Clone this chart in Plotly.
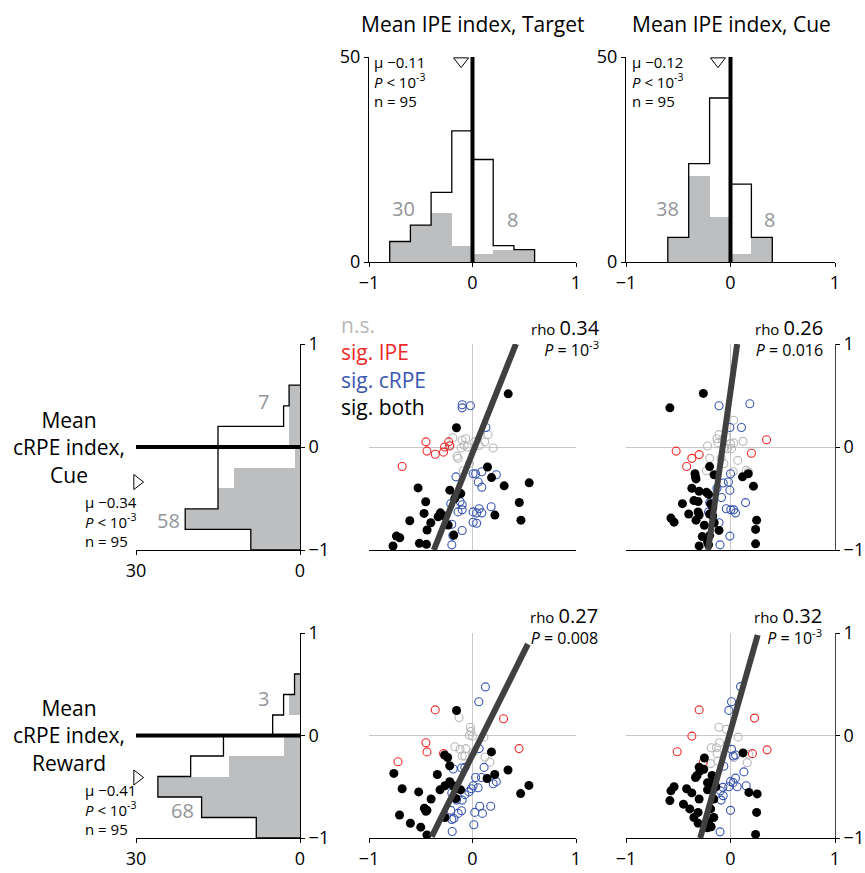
import plotly.graph_objects as go

# ---------------- data ----------------
BIN_W = 0.2
# top histograms (IPE index), left bin edges, total counts, significant counts
ipe_target_left = [-0.8, -0.6, -0.4, -0.2, 0.0, 0.2, 0.4]
ipe_target_total = [5, 9, 17, 32, 25, 4, 3]
ipe_target_sig = [5, 9, 12, 4, 2, 3, 3]
ipe_target_mean = -0.11

ipe_cue_left = [-0.6, -0.4, -0.2, 0.0, 0.2]
ipe_cue_total = [6, 24, 40, 19, 6]
ipe_cue_sig = [6, 21, 11, 2, 6]
ipe_cue_mean = -0.12

# left histograms (cRPE index)
crpe_cue_left = [-1.0, -0.8, -0.6, -0.4, -0.2, 0.0, 0.2, 0.4]
crpe_cue_total = [9, 21, 15, 15, 15, 15, 3, 2]
crpe_cue_sig = [9, 21, 15, 12, 1, 2, 2, 2]
crpe_cue_mean = -0.34

crpe_rew_left = [-1.0, -0.8, -0.6, -0.4, -0.2, 0.0, 0.2, 0.4]
crpe_rew_total = [8, 18, 26, 20, 14, 5, 3, 1]
crpe_rew_sig = [8, 18, 26, 13, 3, 0, 2, 1]
crpe_rew_mean = -0.41

# scatter: cRPE cue vs IPE target
cue_tgt_ns = [(-0.19,0.09),(-0.1,0.065),(-0.065,0.08),(-0.08,0.016),(-0.05,0.0),(0.02,0.05),(0.12,0.05),(0.15,0.12),(0.2,-0.01),(-0.15,-0.09),(-0.14,-0.11),(-0.09,-0.23),(-0.03,-0.16),(-0.11,-0.01),(0.065,0.016),(-0.22,0.02)]
cue_tgt_ipe = [(-0.45,0.05),(-0.44,-0.04),(-0.36,-0.07),(-0.28,-0.05),(-0.27,0.0),(-0.23,0.05),(-0.22,0.01),(-0.68,-0.19)]
cue_tgt_crpe = [(-0.1,0.41),(-0.1,0.38),(-0.02,0.40),(0.13,0.19),(0.03,-0.26),(0.006,-0.26),(0.09,-0.24),(0.23,-0.27),(-0.16,-0.29),(0.055,-0.34),(0.09,-0.39),(-0.21,-0.55),(-0.12,-0.53),(-0.1,-0.56),(-0.14,-0.63),(-0.1,-0.61),(0.065,-0.60),(0.006,-0.63),(0.04,-0.64),(0.09,-0.64),(0.18,-0.58),(0.006,-0.73),(0.04,-0.74),(-0.2,-0.75),(-0.1,-0.81),(-0.19,-0.86),(-0.2,-0.95)]
cue_tgt_both = [(0.345,0.516),(-0.155,0.187),(0.145,-0.194),(0.184,-0.297),(0.548,-0.348),(0.306,-0.377),(-0.526,-0.397),(-0.219,-0.419),(-0.113,-0.452),(-0.155,-0.468),(-0.171,-0.5),(-0.452,-0.532),(0.452,-0.539),(-0.468,-0.645),(-0.31,-0.639),(-0.332,-0.677),(-0.268,-0.671),(0.216,-0.661),(-0.606,-0.716),(-0.403,-0.735),(0.468,-0.71),(-0.235,-0.758),(-0.439,-0.806),(-0.735,-0.865),(-0.703,-0.881),(-0.181,-0.855),(-0.513,-0.935),(-0.445,-0.945),(-0.768,-0.961)]

# scatter: cRPE cue vs IPE cue
cue_cue_ns = [(0.03,0.26),(-0.11,0.12),(-0.13,0.08),(-0.08,0.07),(-0.12,0.04),(0.0,0.03),(0.03,0.04),(0.12,0.055),(-0.22,0.01),(-0.055,-0.006),(-0.03,-0.016),(0.01,-0.016),(-0.2,-0.11),(-0.09,-0.11),(-0.064,-0.16),(0.07,-0.13),(0.026,-0.24),(-0.23,-0.23),(0.17,-0.24),(0.15,-0.226),(-0.04,0.1)]
cue_cue_ipe = [(-0.52,-0.04),(-0.37,-0.11),(-0.3,-0.074),(-0.42,-0.19),(0.345,0.07),(0.2,-0.06)]
cue_cue_crpe = [(-0.11,0.4),(0.185,0.42),(0.105,0.19),(-0.006,0.19),(0.0,-0.26),(-0.02,-0.34),(-0.07,-0.35),(-0.006,-0.42),(-0.13,-0.4),(-0.086,-0.49),(0.144,-0.54),(-0.2,-0.54),(-0.21,-0.63),(-0.04,-0.6),(0.003,-0.61),(0.03,-0.61),(0.048,-0.64),(-0.11,-0.735),(-0.006,-0.865),(-0.1,-0.95)]
cue_cue_both = [(-0.26,0.52),(-0.58,0.38),(-0.2,-0.19),(-0.34,-0.26),(-0.335,-0.29),(-0.33,-0.31),(-0.157,-0.27),(0.115,-0.29),(0.17,-0.26),(0.22,-0.38),(-0.37,-0.4),(-0.3,-0.43),(-0.23,-0.44),(-0.21,-0.46),(-0.35,-0.52),(-0.31,-0.53),(-0.46,-0.55),(-0.19,-0.55),(-0.17,-0.59),(-0.4,-0.65),(-0.31,-0.63),(-0.3,-0.66),(-0.2,-0.65),(-0.17,-0.67),(-0.57,-0.69),(-0.54,-0.73),(-0.33,-0.71),(-0.156,-0.735),(-0.25,-0.76),(-0.11,-0.81),(0.25,-0.71),(0.24,-0.8),(-0.27,-0.87),(-0.2,-0.86),(-0.22,-0.92),(-0.3,-0.96),(-0.21,-0.95),(0.24,-0.94)]

# scatter: cRPE reward vs IPE target
rew_tgt_ns = [(-0.13,0.176),(-0.02,0.08),(-0.016,0.04),(-0.03,0.003),(0.0,-0.006),(0.11,-0.016),(-0.17,-0.11),(-0.12,-0.135),(-0.064,-0.128),(-0.1,-0.2),(-0.074,-0.2),(0.12,-0.21),(0.167,-0.26),(0.006,-0.167)]
rew_tgt_ipe = [(-0.36,0.25),(0.3,0.163),(-0.45,-0.07),(-0.44,-0.16),(-0.28,-0.176),(0.45,-0.128),(-0.72,-0.256)]
rew_tgt_crpe = [(0.125,0.474),(0.061,0.33),(0.064,-0.128),(-0.106,-0.317),(-0.074,-0.311),(0.112,-0.311),(-0.186,-0.327),(0.03,-0.41),(0.087,-0.41),(0.006,-0.49),(-0.01,-0.52),(0.054,-0.51),(0.2,-0.47),(0.23,-0.45),(-0.035,-0.55),(-0.2,-0.56),(-0.074,-0.577),(-0.154,-0.63),(-0.1,-0.63),(0.07,-0.69),(0.176,-0.69),(0.022,-0.75),(0.096,-0.76),(-0.21,-0.73),(-0.106,-0.734),(-0.138,-0.76),(-0.18,-0.81),(-0.2,-0.82),(0.013,-0.87),(-0.196,-0.936)]
rew_tgt_both = [(-0.154,0.244),(0.183,-0.16),(-0.27,-0.19),(-0.24,-0.215),(-0.22,-0.295),(0.343,-0.337),(-0.76,-0.37),(-0.34,-0.38),(0.215,-0.38),(0.141,-0.42),(-0.22,-0.45),(-0.186,-0.49),(-0.266,-0.49),(-0.314,-0.53),(-0.16,-0.52),(-0.115,-0.53),(-0.68,-0.52),(-0.52,-0.55),(0.545,-0.487),(0.465,-0.567),(-0.4,-0.62),(-0.16,-0.615),(-0.465,-0.71),(-0.44,-0.73),(-0.45,-0.74),(-0.705,-0.776),(-0.266,-0.8),(-0.6,-0.856),(-0.5,-0.894),(-0.44,-0.97)]

# scatter: cRPE reward vs IPE cue
rew_cue_ns = [(-0.11,0.08),(-0.04,0.06),(0.073,-0.016),(-0.185,-0.12),(-0.134,-0.12),(-0.105,-0.07),(-0.128,-0.177),(-0.19,-0.274),(0.16,-0.265),(0.176,-0.184),(-0.12,-0.25),(0.03,-0.215)]
rew_cue_ipe = [(-0.3,0.25),(0.23,0.17),(-0.37,-0.006),(-0.51,-0.158),(0.35,-0.14),(0.21,-0.177),(-0.26,-0.26)]
rew_cue_crpe = [(0.096,0.477),(0.01,0.33),(-0.016,0.245),(0.01,-0.135),(0.026,-0.2),(0.048,-0.19),(-0.064,-0.3),(0.128,-0.355),(0.048,-0.416),(0.0,-0.45),(0.026,-0.46),(0.064,-0.5),(-0.016,-0.5),(0.15,-0.49),(-0.073,-0.506),(-0.096,-0.54),(-0.07,-0.587),(-0.09,-0.63),(0.0,-0.73),(-0.1,-0.94)]
rew_cue_both = [(0.12,-0.17),(-0.25,-0.22),(-0.3,-0.31),(-0.29,-0.345),(-0.32,-0.39),(-0.335,-0.41),(-0.256,-0.33),(-0.176,-0.39),(-0.22,-0.46),(-0.176,-0.47),(-0.14,-0.5),(-0.22,-0.53),(-0.54,-0.5),(-0.57,-0.54),(-0.58,-0.635),(-0.42,-0.52),(-0.37,-0.56),(-0.3,-0.62),(-0.45,-0.67),(-0.39,-0.716),(-0.31,-0.75),(-0.35,-0.8),(-0.31,-0.855),(-0.19,-0.716),(-0.16,-0.8),(-0.21,-0.845),(-0.22,-0.9),(-0.185,-0.89),(0.176,-0.555),(0.255,-0.57),(0.25,-0.75),(0.24,-0.965),(-0.16,-0.62)]

# regression fits: slope, intercept, x-extent
fit_cue_tgt = (2.52, -0.058, -0.374, 0.42)
fit_cue_cue = (7.19, 0.54, -0.214, 0.064)
fit_rew_tgt = (2.02, -0.19, -0.394, 0.535)
fit_rew_cue = (3.60, 0.044, -0.29, 0.26)

rho_labels = ["0.34", "0.26", "0.27", "0.32"]
p_labels = ["10<sup>-3</sup>", "0.016", "0.008", "10<sup>-3</sup>"]
sig_counts_top = [("30", "8"), ("38", "8")]
sig_counts_left = [("7", "58"), ("3", "68")]
stat_mu = ["\u22120.11", "\u22120.12", "\u22120.34", "\u22120.41"]
row_names = ["Cue", "Reward"]
n_cells = 95

# ---------------- style ----------------
W, H = 865, 873
FONT = "Open Sans"
GRAYFILL = "#BCBEC0"
NUMGRAY = "#939598"
RED = "#EE2A2A"
BLUE = "#3A56B0"
NSGRAY = "#B8B8B8"
FITC = "#404040"

def fx(p):
    return p / W

def fy(p):
    return 1 - p / H

fig = go.Figure()

# panel boxes in pixels: left, right, top, bottom
boxes = {
    1: (369, 576, 57, 262),
    2: (626, 835, 57, 262),
    3: (136, 300, 344, 550),
    4: (369, 576, 344, 550),
    5: (626, 835, 344, 550),
    6: (136, 300, 633, 838),
    7: (369, 576, 633, 838),
    8: (626, 835, 633, 838),
}

def ax(i, kind):
    return ("x" if kind == "x" else "y") + ("" if i == 1 else str(i))

# ---- top histograms ----
for i, (left, total, sig, mean) in zip([1, 2], [
        (ipe_target_left, ipe_target_total, ipe_target_sig, ipe_target_mean),
        (ipe_cue_left, ipe_cue_total, ipe_cue_sig, ipe_cue_mean)]):
    centers = [e + BIN_W / 2 for e in left]
    fig.add_trace(go.Bar(x=centers, y=sig, width=BIN_W, marker=dict(color=GRAYFILL, line=dict(width=0)),
                         xaxis=ax(i, "x"), yaxis=ax(i, "y"), showlegend=False, hoverinfo="skip"))
    xs = [left[0]] + list(left) + [left[-1] + BIN_W]
    ys = [0] + list(total) + [0]
    fig.add_trace(go.Scatter(x=xs, y=ys, mode="lines", line=dict(color="black", width=1.3, shape="hv"),
                             xaxis=ax(i, "x"), yaxis=ax(i, "y"), showlegend=False, hoverinfo="skip"))
    fig.add_shape(type="line", x0=0, x1=0, y0=0, y1=50, xref=ax(i, "x"), yref=ax(i, "y"),
                  line=dict(color="black", width=4))
    fig.add_trace(go.Scatter(x=[mean], y=[49], mode="markers",
                             marker=dict(symbol="triangle-down-open", size=13, color="black", line=dict(width=1)),
                             xaxis=ax(i, "x"), yaxis=ax(i, "y"), showlegend=False, cliponaxis=False, hoverinfo="skip"))

# ---- left histograms ----
for i, (left, total, sig, mean) in zip([3, 6], [
        (crpe_cue_left, crpe_cue_total, crpe_cue_sig, crpe_cue_mean),
        (crpe_rew_left, crpe_rew_total, crpe_rew_sig, crpe_rew_mean)]):
    centers = [e + BIN_W / 2 for e in left]
    fig.add_trace(go.Bar(y=centers, x=sig, width=BIN_W, orientation="h",
                         marker=dict(color=GRAYFILL, line=dict(width=0)),
                         xaxis=ax(i, "x"), yaxis=ax(i, "y"), showlegend=False, hoverinfo="skip"))
    ys = [left[0]] + list(left) + [left[-1] + BIN_W]
    xs = [0] + list(total) + [0]
    fig.add_trace(go.Scatter(x=xs, y=ys, mode="lines", line=dict(color="black", width=1.3, shape="vh"),
                             xaxis=ax(i, "x"), yaxis=ax(i, "y"), showlegend=False, hoverinfo="skip"))
    fig.add_shape(type="line", x0=30, x1=0, y0=0, y1=0, xref=ax(i, "x"), yref=ax(i, "y"),
                  line=dict(color="black", width=4))
    fig.add_trace(go.Scatter(x=[29.8], y=[mean], mode="markers",
                             marker=dict(symbol="triangle-right-open", size=13, color="black", line=dict(width=1)),
                             xaxis=ax(i, "x"), yaxis=ax(i, "y"), showlegend=False, cliponaxis=False, hoverinfo="skip"))

# ---- scatters ----
scatter_sets = {
    4: (cue_tgt_ns, cue_tgt_ipe, cue_tgt_crpe, cue_tgt_both, fit_cue_tgt),
    5: (cue_cue_ns, cue_cue_ipe, cue_cue_crpe, cue_cue_both, fit_cue_cue),
    7: (rew_tgt_ns, rew_tgt_ipe, rew_tgt_crpe, rew_tgt_both, fit_rew_tgt),
    8: (rew_cue_ns, rew_cue_ipe, rew_cue_crpe, rew_cue_both, fit_rew_cue),
}
for i, (ns, ipe, crpe, both, fit) in scatter_sets.items():
    for pts, col, filled in [(ns, NSGRAY, False), (ipe, RED, False), (crpe, BLUE, False), (both, "black", True)]:
        if filled:
            mk = dict(symbol="circle", size=9, color="black", line=dict(width=0))
        else:
            mk = dict(symbol="circle-open", size=8, color=col, line=dict(width=1.1, color=col))
        fig.add_trace(go.Scatter(x=[p[0] for p in pts], y=[p[1] for p in pts], mode="markers", marker=mk,
                                 xaxis=ax(i, "x"), yaxis=ax(i, "y"), showlegend=False, hoverinfo="skip"))
    m, b, xlo, xhi = fit
    fig.add_trace(go.Scatter(x=[xlo, xhi], y=[m * xlo + b, m * xhi + b], mode="lines",
                             line=dict(color=FITC, width=6), xaxis=ax(i, "x"), yaxis=ax(i, "y"),
                             showlegend=False, hoverinfo="skip", cliponaxis=False))

# ---------------- axes ----------------
tickfont = dict(family=FONT, size=18, color="black")
layout_axes = {}
for i, (l, r, t, bt) in boxes.items():
    xk = "xaxis" + ("" if i == 1 else str(i))
    yk = "yaxis" + ("" if i == 1 else str(i))
    xa = dict(domain=[fx(l), fx(r)], anchor=ax(i, "y"), showgrid=False, zeroline=False, automargin=False,
              showline=True, linecolor="black", linewidth=1, ticks="outside", ticklen=4,
              tickcolor="black", tickfont=tickfont, fixedrange=True)
    ya = dict(domain=[fy(bt), fy(t)], anchor=ax(i, "x"), showgrid=False, zeroline=False, automargin=False,
              showline=True, linecolor="black", linewidth=1, ticks="outside", ticklen=4,
              tickcolor="black", tickfont=tickfont, fixedrange=True)
    if i in (1, 2):
        xa.update(range=[-1, 1], tickvals=[-1, 0, 1], ticktext=["\u22121", "0", "1"])
        ya.update(range=[0, 50], tickvals=[0, 50], ticktext=["0", "50"])
    elif i in (3, 6):
        xa.update(range=[30, 0], tickvals=[30, 0], ticktext=["30", "0"])
        ya.update(range=[-1, 1], side="right", tickvals=[-1, 0, 1], ticktext=["\u22121", "0", "1"])
    else:
        xa.update(range=[-1, 1], zeroline=True, zerolinecolor="#C8C8C8", zerolinewidth=1)
        ya.update(range=[-1, 1], zeroline=True, zerolinecolor="#C8C8C8", zerolinewidth=1)
        if i in (4, 5):
            xa.update(ticks="", showticklabels=False)
        else:
            xa.update(tickvals=[-1, 0, 1], ticktext=["\u22121", "0", "1"])
        if i in (5, 8):
            ya.update(side="right", tickvals=[-1, 0, 1], ticktext=["\u22121", "0", "1"], linecolor="#444")
        else:
            ya.update(showline=False, ticks="", showticklabels=False)
    layout_axes[xk] = xa
    layout_axes[yk] = ya

# ---------------- annotations ----------------
ann = []

def text(px, py, s, size, color="black", xanchor="center", yanchor="middle", align="center"):
    ann.append(dict(x=fx(px), y=fy(py), xref="paper", yref="paper", text=s, showarrow=False,
                    xanchor=xanchor, yanchor=yanchor, align=align, borderpad=0,
                    font=dict(family=FONT, size=size, color=color)))

def stats(k):
    return "\u03bc " + stat_mu[k] + "<br><i>P</i> &lt; 10<sup>-3</sup><br>n = %d" % n_cells

# titles
text(473, 24, "Mean IPE index, Target", 21)
text(731, 24, "Mean IPE index, Cue", 21)

# top stats
text(373, 81, stats(0), 15, xanchor="left", align="left")
text(631, 81, stats(1), 15, xanchor="left", align="left")

# top sig counts
text(403, 208, sig_counts_top[0][0], 20, NUMGRAY)
text(512, 219, sig_counts_top[0][1], 20, NUMGRAY)
text(667, 208, sig_counts_top[1][0], 20, NUMGRAY)
text(769, 219, sig_counts_top[1][1], 20, NUMGRAY)

# left row labels
text(69, 448, "Mean<br>cRPE index,<br>" + row_names[0], 21)
text(69, 735, "Mean<br>cRPE index,<br>" + row_names[1], 21)

# left stats
text(84, 521, stats(2), 15, xanchor="left", align="left")
text(84, 809, stats(3), 15, xanchor="left", align="left")

# left sig counts
text(263, 402, sig_counts_left[0][0], 20, NUMGRAY)
text(168, 520, sig_counts_left[0][1], 20, NUMGRAY)
text(263, 698, sig_counts_left[1][0], 20, NUMGRAY)
text(182, 810, sig_counts_left[1][1], 20, NUMGRAY)

# legend text
legend_txt = ("<span style='color:%s'>n.s.</span><br><span style='color:%s'>sig. IPE</span><br>"
              "<span style='color:%s'>sig. cRPE</span><br><span style='color:black'>sig. both</span>"
              % (NSGRAY, RED, BLUE))
text(340, 366, legend_txt, 21, xanchor="left", align="left")

# rho / P
for k, (xr, yc) in enumerate([(601, 338), (824, 338), (599, 625), (823, 625)]):
    s = ("<span style='font-size:15px'>rho</span> <span style='font-size:20px'>%s</span><br>"
         "<i>P</i> = %s" % (rho_labels[k], p_labels[k]))
    text(xr, yc, s, 16, xanchor="right", align="right")

fig.update_layout(
    width=W, height=H, margin=dict(l=0, r=0, t=0, b=0, autoexpand=False),
    paper_bgcolor="white", plot_bgcolor="rgba(0,0,0,0)",
    showlegend=False, barmode="overlay", bargap=0,
    font=dict(family=FONT, color="black"),
    annotations=ann,
    **layout_axes,
)

fig.write_html("out.html")
